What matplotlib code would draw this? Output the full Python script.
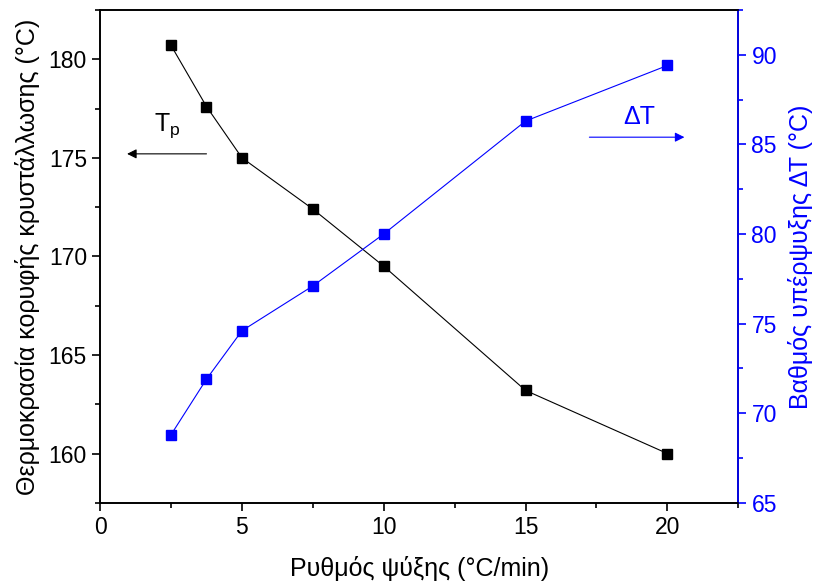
import matplotlib.pyplot as plt
from matplotlib.ticker import MultipleLocator

plt.rcParams['font.family'] = ['Liberation Sans', 'DejaVu Sans']

rate = [2.5, 3.75, 5, 7.5, 10, 15, 20]
tp = [180.7, 177.6, 175.0, 172.4, 169.5, 163.2, 160.0]
dT = [68.8, 71.9, 74.6, 77.1, 80.0, 86.3, 89.4]

fig, ax = plt.subplots(figsize=(8.14, 5.84), dpi=100)
fig.subplots_adjust(left=0.123, right=0.907, bottom=0.139, top=0.983)
ax2 = ax.twinx()

ax.plot(rate, tp, color='black', lw=0.8, marker='s', ms=6.5)
ax2.plot(rate, dT, color='blue', lw=0.8, marker='s', ms=6.5)

ax.set_xlim(0, 22.5)
ax.set_ylim(157.5, 182.5)
ax2.set_ylim(65, 92.5)

ax.xaxis.set_major_locator(MultipleLocator(5))
ax.xaxis.set_minor_locator(MultipleLocator(2.5))
ax.yaxis.set_major_locator(MultipleLocator(5))
ax.yaxis.set_minor_locator(MultipleLocator(2.5))
ax2.yaxis.set_major_locator(MultipleLocator(5))
ax2.yaxis.set_minor_locator(MultipleLocator(2.5))

for a in (ax, ax2):
    for s in a.spines.values():
        s.set_linewidth(1.2)
ax2.spines['right'].set_color('blue')

ax.tick_params(which='major', direction='out', length=6, width=1.2, labelsize=16.5)
ax.tick_params(which='minor', direction='out', length=3.5, width=1.2)
ax2.tick_params(which='major', direction='out', length=6, width=1.2, labelsize=16.5,
                color='blue', labelcolor='blue')
ax2.tick_params(which='minor', direction='out', length=3.5, width=1.2, color='blue')

ax.set_xlabel('Ρυθμός ψύξης (°C/min)', fontsize=18, labelpad=12)
ax.set_ylabel('Θερμοκρασία κορυφής κρυστάλλωσης (°C)', fontsize=18, labelpad=6)
ax2.set_ylabel('Βαθμός υπέρψυξης ΔΤ (°C)', fontsize=18, color='blue', labelpad=8)

ax.annotate('', xy=(0.95, 175.2), xytext=(3.75, 175.2),
            arrowprops=dict(arrowstyle='-|>', color='black', lw=0.8,
                            mutation_scale=14, shrinkA=0, shrinkB=0))
ax.text(2.35, 175.9, r'T$_\mathregular{p}$', fontsize=18, ha='center', va='bottom')

ax2.annotate('', xy=(20.6, 85.4), xytext=(17.25, 85.4),
             arrowprops=dict(arrowstyle='-|>', color='blue', lw=0.8,
                             mutation_scale=14, shrinkA=0, shrinkB=0))
ax2.text(19.0, 85.85, 'ΔT', fontsize=18, color='blue', ha='center', va='bottom')

fig.savefig('out.png', dpi=100)
